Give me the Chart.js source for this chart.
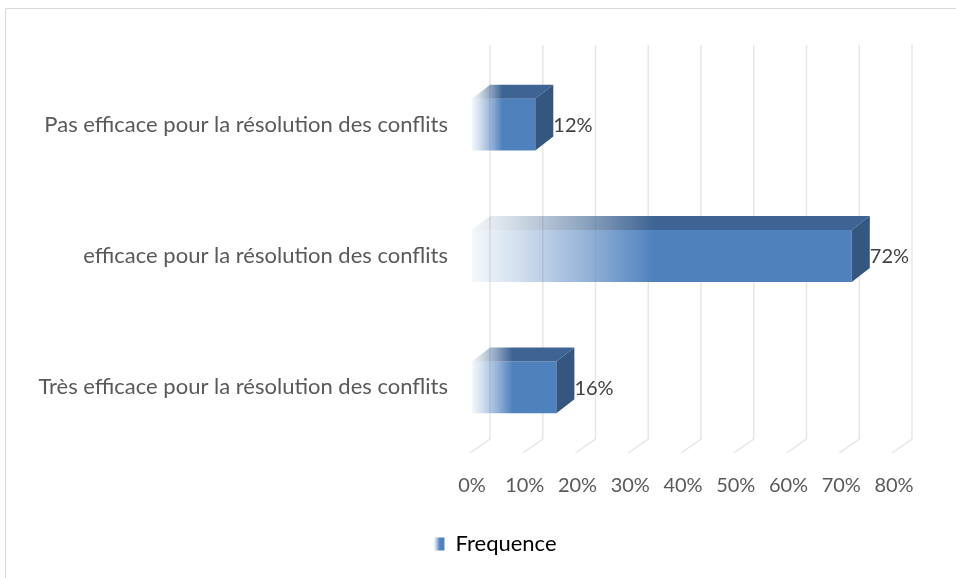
<!DOCTYPE html>
<html>
<head>
<meta charset="utf-8">
<script src="https://cdn.jsdelivr.net/npm/chart.js@4"></script>
<style>
    body { margin: 0; background: #fff; }
    #wrap { width: 956px; height: 578px; }
</style>
</head>
<body>
<div id="wrap"><canvas id="freqChart" width="956" height="578"></canvas></div>
<script>
const categories = [
    'Pas efficace pour la résolution des conflits',
    'efficace pour la résolution des conflits',
    'Très efficace pour la résolution des conflits'
];
const frequence = [12, 72, 16];
const tickValues = [0, 10, 20, 30, 40, 50, 60, 70, 80];

const FONT = 'Lato, "Open Sans", sans-serif';
const BLUE = '79, 129, 189';
const DEPTH_X = 18;
const DEPTH_Y = 14;

// gradient running from the bar start to its end, as in the excel fill
function barGradient(ctx, x0, x1, rgb) {
    const g = ctx.createLinearGradient(x0, 0, x1, 0);
    g.addColorStop(0, 'rgba(' + rgb + ', 0.06)');
    g.addColorStop(0.12, 'rgba(' + rgb + ', 0.25)');
    g.addColorStop(0.3, 'rgba(' + rgb + ', 0.6)');
    g.addColorStop(0.48, 'rgba(' + rgb + ', 1)');
    g.addColorStop(1, 'rgba(' + rgb + ', 1)');
    return g;
}

const frame3d = {
    id: 'frame3d',
    afterLayout(chart) {
        // excel centres the legend under the plot, not the whole canvas
        chart.legend.left = 96;
    },
    beforeDraw(chart) {
        const ctx = chart.ctx;
        ctx.save();
        ctx.strokeStyle = '#d9d9d9';
        ctx.lineWidth = 1;
        ctx.beginPath();
        ctx.moveTo(5.5, 578);
        ctx.lineTo(5.5, 8.5);
        ctx.lineTo(956, 8.5);
        ctx.stroke();
        ctx.restore();
    },
    beforeDatasetsDraw(chart) {
        const ctx = chart.ctx;
        const area = chart.chartArea;
        const xs = chart.scales.x;
        ctx.save();
        ctx.strokeStyle = '#e6e6e6';
        ctx.lineWidth = 1.5;
        tickValues.forEach(v => {
            const px = xs.getPixelForValue(v);
            ctx.beginPath();
            ctx.moveTo(px + DEPTH_X, area.top - DEPTH_Y);
            ctx.lineTo(px + DEPTH_X, area.bottom - DEPTH_Y);
            ctx.lineTo(px - 2, area.bottom);
            ctx.stroke();
        });
        ctx.restore();
    },
    afterDatasetsDraw(chart) {
        const ctx = chart.ctx;
        const meta = chart.getDatasetMeta(0);
        ctx.save();
        meta.data.forEach((bar, i) => {
            const p = bar.getProps(['x', 'y', 'base', 'height'], true);
            const top = p.y - p.height / 2;
            const bottom = p.y + p.height / 2;
            // top face
            ctx.fillStyle = barGradient(ctx, p.base, p.x, '62, 100, 147');
            ctx.beginPath();
            ctx.moveTo(p.base, top);
            ctx.lineTo(p.x, top);
            ctx.lineTo(p.x + DEPTH_X, top - DEPTH_Y);
            ctx.lineTo(p.base + DEPTH_X, top - DEPTH_Y);
            ctx.closePath();
            ctx.fill();
            // right face
            ctx.fillStyle = '#35567f';
            ctx.beginPath();
            ctx.moveTo(p.x, top);
            ctx.lineTo(p.x + DEPTH_X, top - DEPTH_Y);
            ctx.lineTo(p.x + DEPTH_X, bottom - DEPTH_Y);
            ctx.lineTo(p.x, bottom);
            ctx.closePath();
            ctx.fill();
            // value label
            ctx.fillStyle = '#404040';
            ctx.font = '20px ' + FONT;
            ctx.textAlign = 'left';
            ctx.textBaseline = 'middle';
            ctx.fillText(frequence[i] + '%', p.x + DEPTH_X, p.y + 1);
        });
        ctx.restore();
    }
};

const ctx = document.getElementById('freqChart').getContext('2d');
new Chart(ctx, {
    type: 'bar',
    data: {
        labels: categories,
        datasets: [{
            label: 'Frequence',
            data: frequence,
            backgroundColor: (c) => {
                const chart = c.chart;
                if (!chart.chartArea || c.raw === undefined) return 'rgb(' + BLUE + ')';
                const xs = chart.scales.x;
                return barGradient(chart.ctx, xs.getPixelForValue(0), xs.getPixelForValue(c.raw), BLUE);
            },
            borderWidth: 0,
            barPercentage: 1,
            categoryPercentage: 0.395
        }]
    },
    options: {
        indexAxis: 'y',
        responsive: false,
        animation: false,
        devicePixelRatio: 1,
        layout: {
            padding: { left: 0, right: 62, top: 59, bottom: 13 }
        },
        scales: {
            x: {
                min: 0,
                max: 80,
                grid: { display: false, drawTicks: false },
                border: { display: false },
                ticks: {
                    stepSize: 10,
                    padding: 21,
                    color: '#595959',
                    font: { family: FONT, size: 20 },
                    callback: v => v + '%'
                },
                afterFit: s => { s.height = 70; }
            },
            y: {
                grid: { display: false, drawTicks: false },
                border: { display: false },
                ticks: {
                    padding: 24,
                    color: '#595959',
                    font: { family: FONT, size: 22 }
                },
                afterFit: s => { s.width = 472; }
            }
        },
        plugins: {
            tooltip: { enabled: false },
            legend: {
                position: 'bottom',
                labels: {
                    boxWidth: 11,
                    boxHeight: 13,
                    color: '#595959',
                    font: { family: FONT, size: 22 },
                    generateLabels: chart => [{
                        text: 'Frequence',
                        fillStyle: barGradient(chart.ctx, 434, 446, BLUE),
                        strokeStyle: 'rgba(0,0,0,0)',
                        lineWidth: 0,
                        datasetIndex: 0,
                        hidden: false
                    }]
                }
            }
        }
    },
    plugins: [frame3d]
});
</script>
</body>
</html>
